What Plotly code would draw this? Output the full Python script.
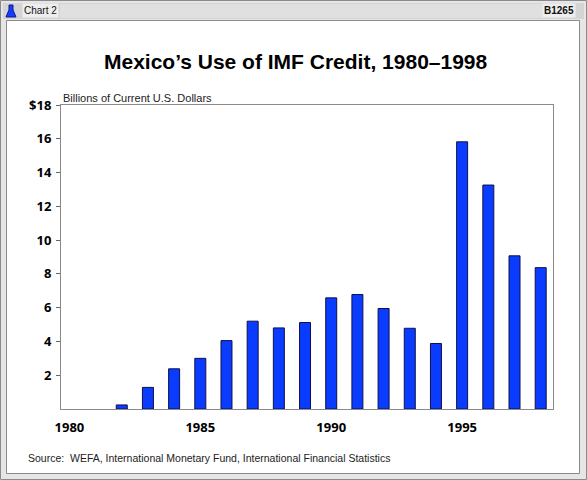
"""Mexico's use of IMF credit, 1980-1998 (bar chart)"""
import plotly.graph_objects as go

# data
years = list(range(1980, 1999))
credit = [0.0, 0.0, 0.24, 1.28, 2.38, 3.0, 4.05, 5.2, 4.8, 5.12,
          6.58, 6.78, 5.95, 4.78, 3.88, 15.82, 13.26, 9.07, 8.37]
x_ticks = [1980, 1985, 1990, 1995]
y_ticks = [2, 4, 6, 8, 10, 12, 14, 16, 18]
y_tick_labels = ["2", "4", "6", "8", "10", "12", "14", "16", "$18"]

W, H = 587, 480
L, R, T, B = 61, 553, 105, 409   # plot area in pixels

NARROW = "Liberation Sans Narrow, Arial Narrow, Liberation Sans, sans-serif"
BOLD = "Open Sans, Liberation Sans, sans-serif"


def px(x):
    return (x - L) / (R - L)


def py(y):
    return (B - y) / (B - T)


fig = go.Figure()
fig.add_trace(go.Bar(
    x=years, y=credit, width=0.42,
    marker=dict(color="#0a3cff",
                # no outline for the empty years so nothing shows at the base
                line=dict(color="#10104a", width=[1 if v > 0 else 0 for v in credit])),
    hoverinfo="x+y",
))

shapes = [
    # outer frame
    dict(type="rect", xref="paper", yref="paper",
         x0=px(0.5), x1=px(586.5), y0=py(479.5), y1=py(0.5),
         line=dict(color="#8a8a8a", width=1), fillcolor="#e6e6e6", layer="below"),
    # header band
    dict(type="rect", xref="paper", yref="paper",
         x0=px(3), x1=px(584), y0=py(19), y1=py(3),
         line=dict(width=0), fillcolor="#d4d4d4", layer="below"),
    # inner white panel
    dict(type="rect", xref="paper", yref="paper",
         x0=px(6.5), x1=px(579.5), y0=py(473.5), y1=py(20.5),
         line=dict(color="#8a8a8a", width=1), fillcolor="white", layer="below"),
    # bell icon
    dict(type="path", xref="paper", yref="paper",
         path="M %f,%f L %f,%f L %f,%f L %f,%f L %f,%f L %f,%f Z" % (
             px(6), py(17), px(16), py(17), px(13), py(10),
             px(13), py(5), px(9), py(5), px(9), py(10)),
         fillcolor="#1a3cff", line=dict(color="#0a1a8a", width=1)),
]
# light stripes of the header band
for yy in range(5, 19, 2):
    shapes.append(dict(type="line", xref="paper", yref="paper",
                       x0=px(60), x1=px(545), y0=py(yy), y1=py(yy),
                       line=dict(color="#ececec", width=1), layer="below"))


def note(text, x, y, anchor, family, size, color="#111", **kw):
    return dict(text=text, x=px(x), y=py(y), xref="paper", yref="paper",
                xanchor=anchor, yanchor="middle", showarrow=False,
                font=dict(family=family, size=size, color=color), **kw)


annotations = [
    note("Chart 2", 22, 10, "left", NARROW, 10, bgcolor="#eeeeee"),
    note("<b>B1265</b>", 576, 10, "right", NARROW, 10, bgcolor="#eeeeee"),
    note("<b>Mexico’s Use of IMF Credit, 1980–1998</b>", 296, 62, "center",
         NARROW, 21, "black"),
    note("Billions of Current U.S. Dollars", 61, 98, "left", NARROW, 11, "#222"),
    note("Source:  WEFA, International Monetary Fund, International Financial Statistics",
         26, 458, "left", NARROW, 10.5, "#222"),
]

fig.update_layout(
    width=W, height=H,
    margin=dict(l=L, r=W - R, t=T, b=H - B, pad=0),
    paper_bgcolor="white", plot_bgcolor="white",
    showlegend=False,
    shapes=shapes, annotations=annotations,
    xaxis=dict(range=[1979.68, 1998.47], tickvals=x_ticks, ticks="",
               showgrid=False, zeroline=False, showline=True, mirror=True,
               linecolor="#8a8a8a", linewidth=1, ticklabelstandoff=6,
               tickfont=dict(family=BOLD, size=13, color="black", weight="bold"),
               fixedrange=True),
    yaxis=dict(range=[0, 18], tickvals=y_ticks, ticktext=y_tick_labels,
               ticks="outside", ticklen=4, tickcolor="#666",
               showgrid=False, zeroline=False, showline=True, mirror=True,
               linecolor="#8a8a8a", linewidth=1, ticklabelstandoff=2,
               tickfont=dict(family=BOLD, size=13, color="black", weight="bold"),
               fixedrange=True),
)

# the page body has a default 8px margin; drop it so the chart sits at (0, 0)
fig.write_html("out.html", config={"displayModeBar": False},
               post_script="document.body.style.margin='0';")
